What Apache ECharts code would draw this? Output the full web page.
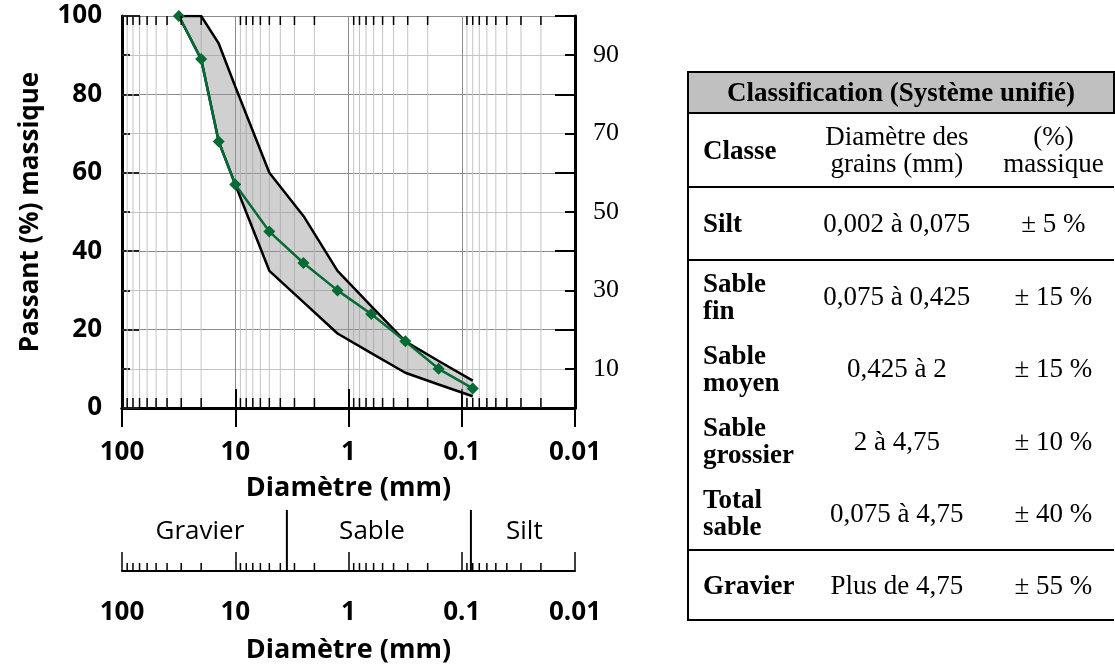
<!DOCTYPE html>
<html>
<head>
<meta charset="utf-8">
<script src="https://cdn.jsdelivr.net/npm/echarts@6/dist/echarts.min.js"></script>
<style>
  html, body { margin: 0; padding: 0; background: #fff; }
  #chart { position: absolute; left: 0; top: 0; width: 1115px; height: 665px; }
  #tbl { position: absolute; left: 687px; top: 71px; border-collapse: collapse; font-family: 'Liberation Serif', 'Times New Roman', serif; font-size: 27px; line-height: 27px; color: #000; table-layout: fixed; }
  #tbl td, #tbl th { padding: 0; vertical-align: middle; }
</style>
</head>
<body>
<div id="chart"></div>
<table id="tbl"></table>
<script>
// ---- data ----
const sieveSizes   = [31.5, 20, 14, 10, 5, 2.5, 1.25, 0.63, 0.315, 0.16, 0.08];
const passing      = [100, 89, 68, 57, 45, 37, 30, 24, 17, 10, 5];
const upperLimit   = [100, 100, 93, 82, 60, 49, 35, 26, 17, 12, 7];
const lowerLimit   = [100, 89, 68, 57, 35, 27, 19, 14, 9, 6, 3];
const minorTickVals = [90, 80, 70, 60, 50, 40, 30, 20,
                       9, 8, 7, 6, 5, 4, 3, 2,
                       0.9, 0.8, 0.7, 0.6, 0.5, 0.4, 0.3, 0.2,
                       0.09, 0.08, 0.07, 0.06, 0.05, 0.04, 0.03, 0.02];
const zoneNames   = ['Gravier', 'Sable', 'Silt'];
const zoneCenters = [20.5, 0.62, 0.028];
const zoneBounds  = [3.5, 0.083];
const xTitle = 'Diamètre (mm)';
const yTitle = 'Passant (%) massique';

const tableTitle = 'Classification (Système unifié)';
const tableHead  = ['Classe', 'Diamètre des<br>grains (mm)', '(%)<br>massique'];
const tableClass = ['Silt', 'Sable<br>fin', 'Sable<br>moyen', 'Sable<br>grossier', 'Total<br>sable', 'Gravier'];
const tableRange = ['0,002 à 0,075', '0,075 à 0,425', '0,425 à 2', '2 à 4,75', '0,075 à 4,75', 'Plus de 4,75'];
const tablePct   = ['± 5 %', '± 15 %', '± 15 %', '± 10 %', '± 40 %', '± 55 %'];

// ---- table ----
(function buildTable() {
  const t = document.getElementById('tbl');
  const rowH = [73, 72.5, 72.5, 72.5, 72.5, 70];
  const ruleAfter = [true, false, false, false, true, true];
  let h = '<colgroup><col style="width:113px"><col style="width:196px"><col style="width:122px"></colgroup>';
  h += '<tr style="height:41px"><th colspan="3" style="background:#c0c0c0;border:2px solid #000;font-weight:bold;text-align:center">' + tableTitle + '</th></tr>';
  h += '<tr style="height:74px;border-bottom:2px solid #000"><td style="font-weight:bold;padding-left:14px;border-left:2px solid #000">' + tableHead[0] + '</td><td style="text-align:center">' + tableHead[1] + '</td><td style="text-align:center">' + tableHead[2] + '</td></tr>';
  for (let i = 0; i < tableClass.length; i++) {
    const bb = ruleAfter[i] ? 'border-bottom:2px solid #000;' : '';
    h += '<tr style="height:' + rowH[i] + 'px;' + bb + '"><td style="font-weight:bold;padding-left:14px;border-left:2px solid #000">' + tableClass[i] + '</td><td style="text-align:center">' + tableRange[i] + '</td><td style="text-align:center">' + tablePct[i] + '</td></tr>';
  }
  t.innerHTML = h;
})();

// ---- chart ----
const chart = echarts.init(document.getElementById('chart'), null, { renderer: 'canvas' });
const SANS = "'Open Sans', 'Noto Sans', sans-serif";
const fmtLog = v => String(parseFloat(Number(v).toPrecision(3)));

const grid0 = { left: 122, right: 540, top: 16, height: 392 };
const grid1 = { left: 122, right: 540, top: 510, height: 64 };

function minorGridRender(params, api) {
  const v = api.value(0);
  const cs = params.coordSys;
  const x = api.coord([v, 50])[0];
  return { type: 'line', shape: { x1: x, y1: cs.y, x2: x, y2: cs.y + cs.height },
           style: { stroke: '#c4c4c4', lineWidth: 1 } };
}
function minorTickRender(params, api) {
  const v = api.value(0);
  const cs = params.coordSys;
  const x = api.coord([v, 50])[0];
  return { type: 'group', children: [
    { type: 'line', shape: { x1: x, y1: cs.y + cs.height, x2: x, y2: cs.y + cs.height - 10 }, style: { stroke: '#000', lineWidth: 1.5 } },
    { type: 'line', shape: { x1: x, y1: cs.y, x2: x, y2: cs.y + 9 }, style: { stroke: '#000', lineWidth: 1.5 } }
  ]};
}
function minorTick2Render(params, api) {
  const v = api.value(0);
  const cs = params.coordSys;
  const x = api.coord([v, 0])[0];
  return { type: 'line', shape: { x1: x, y1: cs.y + cs.height, x2: x, y2: cs.y + cs.height - 8 }, style: { stroke: '#000', lineWidth: 1.5 } };
}
function bandRender(params, api) {
  if (params.dataIndex !== 0) return null;
  const pts = [];
  for (let i = 0; i < sieveSizes.length; i++) pts.push(api.coord([sieveSizes[i], upperLimit[i]]));
  for (let i = sieveSizes.length - 1; i >= 0; i--) pts.push(api.coord([sieveSizes[i], lowerLimit[i]]));
  return { type: 'polygon', shape: { points: pts }, style: { fill: 'rgba(150,150,150,0.45)' } };
}
function boundRender(params, api) {
  const v = api.value(0);
  const top = api.coord([v, 1]);
  const bot = api.coord([v, 0]);
  return { type: 'line', shape: { x1: top[0], y1: top[1], x2: bot[0], y2: bot[1] }, style: { stroke: '#000', lineWidth: 2 } };
}
function zoneRender(params, api) {
  const p = api.coord([api.value(0), api.value(1)]);
  return { type: 'text', x: p[0], y: p[1],
           style: { text: zoneNames[params.dataIndex], fontFamily: SANS, fontSize: 26, fill: '#000', align: 'center', verticalAlign: 'middle' } };
}

const logAxisBase = { type: 'log', logBase: 10, min: 0.01, max: 100, inverse: true };

const option = {
  animation: false,
  backgroundColor: '#fff',
  grid: [grid0, grid1],
  xAxis: [
    Object.assign({}, logAxisBase, {
      gridIndex: 0, position: 'bottom',
      axisLine: { show: true, lineStyle: { color: '#000', width: 3 } },
      axisTick: { show: true, inside: true, length: 19, lineStyle: { color: '#000', width: 2 } },
      axisLabel: { formatter: fmtLog, fontFamily: SANS, fontWeight: 'bold', fontSize: 26, color: '#000', margin: 32 },
      splitLine: { show: true, lineStyle: { color: '#8c8c8c', width: 1 } },
      name: xTitle, nameLocation: 'middle', nameGap: 67,
      nameTextStyle: { fontFamily: SANS, fontWeight: 'bold', fontSize: 27, color: '#000' }
    }),
    Object.assign({}, logAxisBase, {
      gridIndex: 0, position: 'top',
      axisLine: { show: true, lineStyle: { color: '#000', width: 3 } },
      axisTick: { show: true, inside: true, length: 19, lineStyle: { color: '#000', width: 2 } },
      axisLabel: { show: false }, splitLine: { show: false }
    }),
    Object.assign({}, logAxisBase, {
      gridIndex: 1, position: 'bottom',
      axisLine: { show: true, lineStyle: { color: '#000', width: 2 } },
      axisTick: { show: true, inside: true, length: 19, lineStyle: { color: '#000', width: 1.5 } },
      axisLabel: { formatter: fmtLog, fontFamily: SANS, fontWeight: 'bold', fontSize: 26, color: '#000', margin: 29 },
      splitLine: { show: false },
      name: xTitle, nameLocation: 'middle', nameGap: 66,
      nameTextStyle: { fontFamily: SANS, fontWeight: 'bold', fontSize: 27, color: '#000' }
    })
  ],
  yAxis: [
    {
      type: 'value', gridIndex: 0, min: 0, max: 100, interval: 20, position: 'left',
      axisLine: { show: true, lineStyle: { color: '#000', width: 3 } },
      axisTick: { show: true, inside: true, length: 18, lineStyle: { color: '#222', width: 2 } },
      minorTick: { show: true, splitNumber: 2, length: 8, lineStyle: { color: '#222', width: 2 } },
      axisLabel: { fontFamily: SANS, fontWeight: 'bold', fontSize: 26, color: '#000', margin: 20 },
      splitLine: { show: true, lineStyle: { color: '#8c8c8c', width: 1 } },
      minorSplitLine: { show: true, lineStyle: { color: '#c4c4c4', width: 1 } },
      name: yTitle, nameLocation: 'middle', nameRotate: 90, nameGap: 78,
      nameTextStyle: { fontFamily: SANS, fontWeight: 'bold', fontSize: 26, color: '#000' }
    },
    {
      type: 'value', gridIndex: 0, min: 0, max: 100, interval: 20, position: 'right',
      axisLine: { show: true, lineStyle: { color: '#000', width: 3 } },
      axisTick: { show: true, inside: true, length: 20, lineStyle: { color: '#000', width: 2 } },
      minorTick: { show: true, splitNumber: 2, length: 10, lineStyle: { color: '#000', width: 2 } },
      axisLabel: { show: false }, splitLine: { show: false }
    },
    {
      type: 'value', gridIndex: 0, min: 0, max: 100, interval: 10, position: 'right',
      axisLine: { show: false }, axisTick: { show: false }, splitLine: { show: false },
      axisLabel: { formatter: v => (v % 20 === 10 ? String(v) : ''), fontFamily: "'Liberation Serif', 'Times New Roman', serif", fontSize: 26, color: '#000', margin: 18 }
    },
    { type: 'value', gridIndex: 1, min: 0, max: 1, show: false }
  ],
  series: [
    { type: 'custom', name: 'minorGrid', xAxisIndex: 0, yAxisIndex: 0, z: 1, silent: true,
      renderItem: minorGridRender, data: minorTickVals.map(v => [v]) },
    { type: 'custom', name: 'band', xAxisIndex: 0, yAxisIndex: 0, z: 2, silent: true,
      renderItem: bandRender, data: [[sieveSizes[0], upperLimit[0]]] },
    { type: 'line', name: 'upper', xAxisIndex: 0, yAxisIndex: 0, z: 3, showSymbol: false, silent: true,
      lineStyle: { color: '#000', width: 2.5 }, data: sieveSizes.map((d, i) => [d, upperLimit[i]]) },
    { type: 'line', name: 'lower', xAxisIndex: 0, yAxisIndex: 0, z: 3, showSymbol: false, silent: true,
      lineStyle: { color: '#000', width: 2.5 }, data: sieveSizes.map((d, i) => [d, lowerLimit[i]]) },
    { type: 'line', name: 'passing', xAxisIndex: 0, yAxisIndex: 0, z: 4,
      symbol: 'diamond', symbolSize: 12, itemStyle: { color: '#046b34' },
      lineStyle: { color: '#046b34', width: 2.5 }, data: sieveSizes.map((d, i) => [d, passing[i]]) },
    { type: 'custom', name: 'minorTicks', xAxisIndex: 0, yAxisIndex: 0, z: 5, silent: true,
      renderItem: minorTickRender, data: minorTickVals.map(v => [v]) },
    { type: 'custom', name: 'minorTicks2', xAxisIndex: 2, yAxisIndex: 3, z: 5, silent: true,
      renderItem: minorTick2Render, data: minorTickVals.map(v => [v]) },
    { type: 'custom', name: 'bounds', xAxisIndex: 2, yAxisIndex: 3, z: 5, silent: true,
      renderItem: boundRender, data: zoneBounds.map(v => [v]) },
    { type: 'custom', name: 'zones', xAxisIndex: 2, yAxisIndex: 3, z: 5, silent: true,
      renderItem: zoneRender, data: zoneCenters.map(v => [v, 0.64]) }
  ]
};
chart.setOption(option);
</script>
</body>
</html>
